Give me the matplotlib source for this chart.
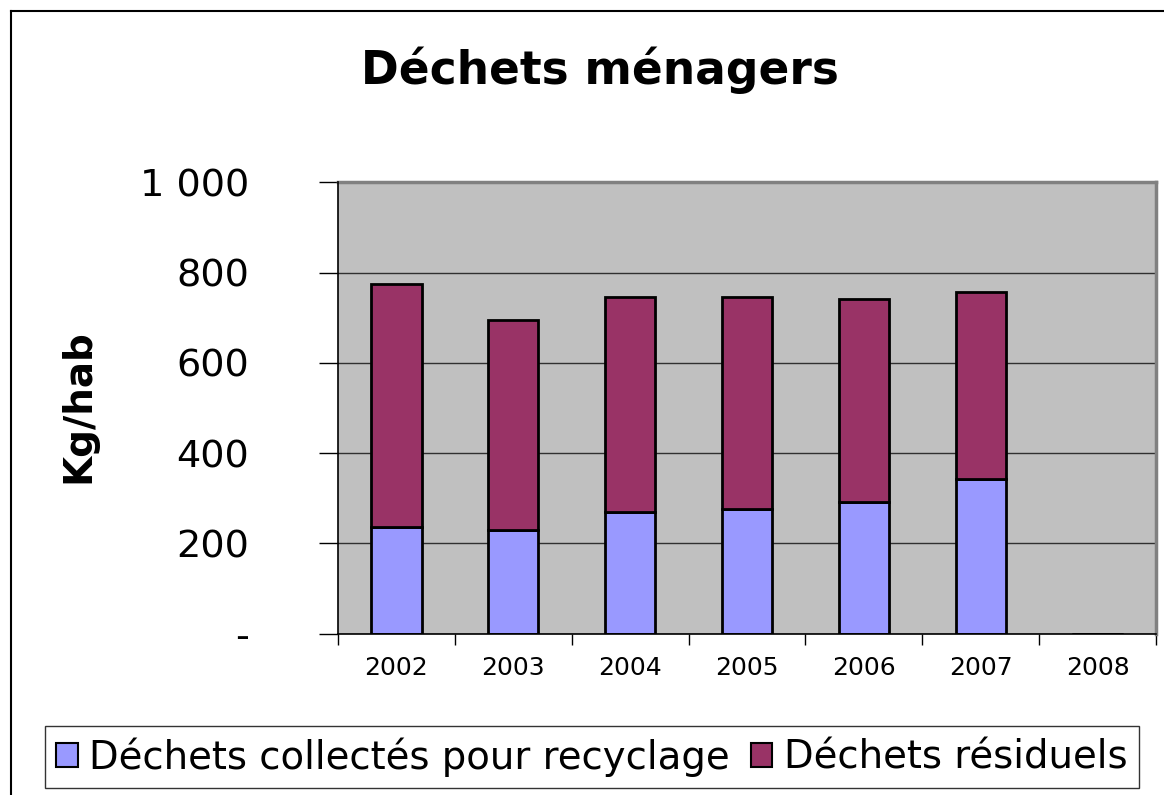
import matplotlib
matplotlib.use("Agg")
import matplotlib.pyplot as plt
from matplotlib.lines import Line2D
from matplotlib.patches import Patch
from matplotlib.ticker import FixedLocator, FuncFormatter

years = ["2002", "2003", "2004", "2005", "2006", "2007", "2008"]
recyclage = [236, 230, 270, 276, 292, 343, 0]
totaux = [775, 695, 747, 745, 741, 758, 0]
residuels = [t - r for t, r in zip(totaux, recyclage)]

series_names = ["Déchets collectés pour recyclage", "Déchets résiduels"]
colors = ["#9999FF", "#993366"]

plt.rcParams['font.family'] = ['DejaVu Sans']

fig = plt.figure(figsize=(11.64, 7.95), dpi=100)
ax = fig.add_axes([338/1164, 1-633.7/795, (1156-338)/1164, (633.7-182.3)/795])
ax.set_facecolor("#C0C0C0")

x = list(range(len(years)))
w = 0.43
ax.bar(x, recyclage, w, color=colors[0], edgecolor="black", linewidth=2, zorder=3)
ax.bar(x, residuels, w, bottom=recyclage, color=colors[1], edgecolor="black", linewidth=2, zorder=3)

ax.set_xlim(-0.5, 6.5)
ax.set_ylim(0, 1000)
ax.set_yticks([0, 200, 400, 600, 800, 1000])
ax.yaxis.set_major_formatter(FuncFormatter(lambda v, p: "-" if v == 0 else (f"{int(v):,}".replace(",", " "))))
ax.tick_params(axis='y', labelsize=27.5, length=14, width=1, direction='out', pad=50)
ax.yaxis.grid(True, color="#303030", linewidth=1, zorder=1)

ax.set_xticks(x)
ax.set_xticklabels(years)
ax.tick_params(axis='x', which='major', length=0, labelsize=18, pad=16)
ax.xaxis.set_minor_locator(FixedLocator([i + 0.5 for i in range(-1, 7)]))
ax.tick_params(axis='x', which='minor', length=8, width=1, direction='out')

for s in ["left", "bottom"]:
    ax.spines[s].set_color("black")
    ax.spines[s].set_linewidth(1.2)
for s in ["top", "right"]:
    ax.spines[s].set_color("#808080")
    ax.spines[s].set_linewidth(2.5)
ax.spines["left"].set_zorder(4)
ax.spines["bottom"].set_zorder(4)

fig.text(78/1164, 1-406/795, "Kg/hab", rotation=90, ha="center", va="center",
         fontsize=28, fontweight="bold")

fig.text(600/1164, 1-70/795, "Déchets ménagers", ha="center", va="center",
         fontsize=32.8, fontweight="bold")

handles = [Patch(facecolor=c, edgecolor="black", linewidth=1.5) for c in colors]
leg = fig.legend(handles, series_names, loc="center", bbox_to_anchor=(592/1164, 1-757/795),
                 ncol=2, fontsize=27.8, frameon=True, fancybox=False, handlelength=0.55,
                 handleheight=0.55, handletextpad=0.3, columnspacing=0.55, borderpad=0.3,
                 borderaxespad=0)
leg.get_frame().set_edgecolor("black")
leg.get_frame().set_linewidth(1.0)

fig.add_artist(Line2D([11/1164, 11/1164], [0, 1-11/795], color="black", linewidth=1.5, transform=fig.transFigure))
fig.add_artist(Line2D([11/1164, 1], [1-11/795, 1-11/795], color="black", linewidth=1.5, transform=fig.transFigure))

fig.savefig("out.png", dpi=100)
